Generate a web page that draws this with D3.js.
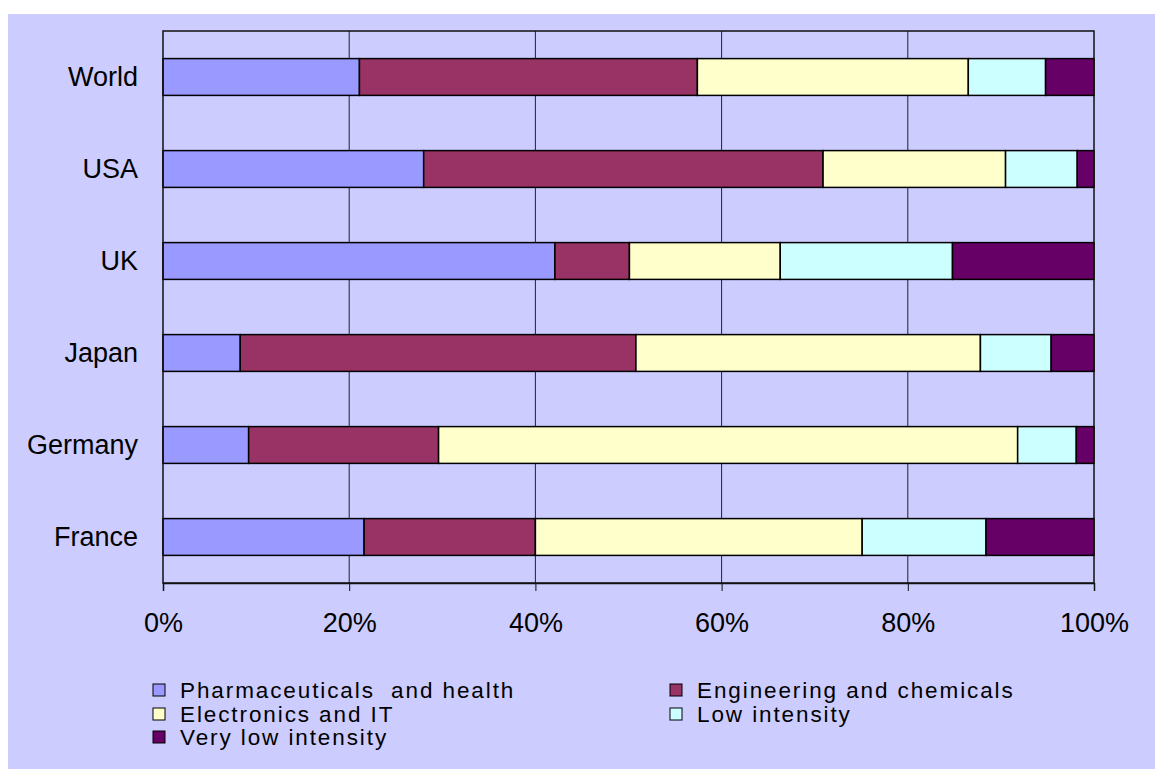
<!DOCTYPE html>
<html>
<head>
<meta charset="utf-8">
<script src="https://cdn.jsdelivr.net/npm/d3@7"></script>
<style>
  body { margin: 0; background: #fff; }
  svg text { font-family: Arial, "Liberation Sans", sans-serif; fill: #000; }
</style>
</head>
<body>
<div id="chart"></div>
<script>
// data (shares in %)
let countries = ["World", "USA", "UK", "Japan", "Germany", "France"];
let sectors = ["Pharmaceuticals  and health", "Engineering and chemicals", "Electronics and IT", "Low intensity", "Very low intensity"];
let colors = ["#9999FF", "#993366", "#FFFFCC", "#CCFFFF", "#660066"];
let pharma      = [21.1, 28.0, 42.1,  8.3,  9.2, 21.6];
let engineering = [36.3, 42.9,  8.0, 42.5, 20.4, 18.4];
let electronics = [29.1, 19.6, 16.2, 37.0, 62.2, 35.1];
let lowInt      = [ 8.3,  7.7, 18.5,  7.6,  6.3, 13.3];
let veryLow     = [ 5.2,  1.8, 15.2,  4.6,  1.9, 11.6];
let xTicks = [0, 20, 40, 60, 80, 100];

let series = [pharma, engineering, electronics, lowInt, veryLow];
let rows = countries.map(function(c, i){
    let r = {country: c};
    sectors.forEach(function(s, j){ r[s] = series[j][i]; });
    return r;
});
let stacked = d3.stack().keys(sectors)(rows);

let width = 1155, height = 769;
let svg = d3.select("#chart").append("svg")
    .attr("width", width).attr("height", height);

// chart area background
svg.append("rect")
    .attr("x", 8).attr("y", 14)
    .attr("width", width - 8).attr("height", height - 14)
    .attr("fill", "#CCCCFF");

let x = d3.scaleLinear().domain([0, 100]).range([163, 1094]);
let y = d3.scaleBand().domain(countries).range([31, 583])
    .paddingInner(0.6).paddingOuter(0.3);

// vertical gridlines
svg.append("g").selectAll("line")
    .data(xTicks.slice(1, -1))
    .join("line")
    .attr("x1", d => x(d)).attr("x2", d => x(d))
    .attr("y1", 31).attr("y2", 583)
    .attr("stroke", "#222").attr("stroke-width", 1);

// bars
svg.append("g").selectAll("g")
    .data(stacked)
    .join("g")
    .attr("fill", (d, i) => colors[i])
    .selectAll("rect")
    .data(d => d)
    .join("rect")
    .attr("x", d => x(d[0]))
    .attr("width", d => x(d[1]) - x(d[0]))
    .attr("y", d => y(d.data.country))
    .attr("height", y.bandwidth())
    .attr("stroke", "#000").attr("stroke-width", 1.5);

// plot border
svg.append("rect")
    .attr("x", 163).attr("y", 31)
    .attr("width", 1094 - 163).attr("height", 583 - 31)
    .attr("fill", "none").attr("stroke", "#111").attr("stroke-width", 1.5);

// x axis
let xAxis = svg.append("g")
    .attr("transform", "translate(0,583)")
    .call(d3.axisBottom(x).tickValues(xTicks).tickFormat(d => d + "%").tickSize(8).tickPadding(22));
xAxis.select(".domain").attr("stroke", "#111").attr("stroke-width", 1.5);
xAxis.selectAll(".tick line").attr("stroke", "#111");
xAxis.selectAll("text").style("font-size", "27px").attr("fill", "#000");

// y axis labels
let yAxis = svg.append("g")
    .attr("transform", "translate(163,0)")
    .call(d3.axisLeft(y).tickSize(0).tickPadding(25));
yAxis.select(".domain").remove();
yAxis.selectAll("text").style("font-size", "27px").attr("fill", "#000");

// legend
let legPos = [[153, 690], [670, 690], [153, 714], [670, 714], [153, 737]];
let leg = svg.append("g").selectAll("g")
    .data(sectors)
    .join("g")
    .attr("transform", (d, i) => "translate(" + legPos[i][0] + "," + legPos[i][1] + ")");
leg.append("rect")
    .attr("x", 0).attr("y", -6).attr("width", 12).attr("height", 12)
    .attr("fill", (d, i) => colors[i]).attr("stroke", "#000").attr("stroke-width", 1);
leg.append("text")
    .attr("x", 27).attr("y", 0).attr("dy", "0.36em")
    .style("font-size", "22.5px")
    .style("letter-spacing", "1.9px")
    .style("white-space", "pre")
    .text(d => d);
</script>
</body>
</html>
